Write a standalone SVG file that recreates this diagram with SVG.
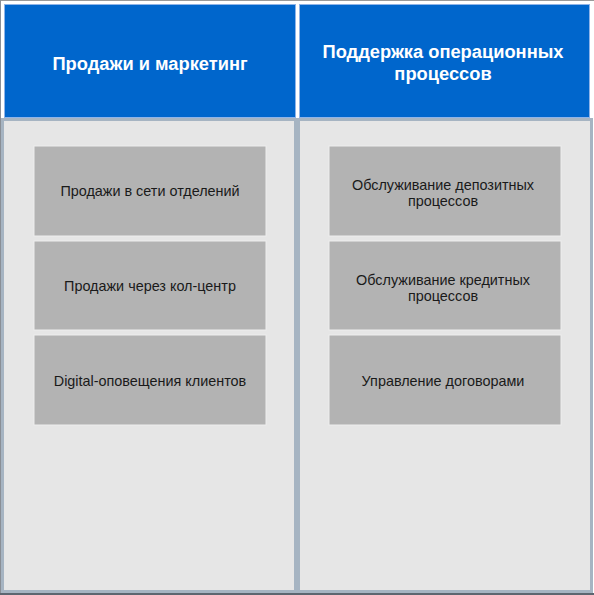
<svg xmlns="http://www.w3.org/2000/svg" width="594" height="595" viewBox="0 0 594 595">
<style>
.hdr{fill:#0066cc;stroke:#8fb4e8;stroke-width:1}
.body{fill:#e6e6e6;stroke:#a6b4c2;stroke-width:3}
.box{fill:#b3b3b3;stroke:#ededed;stroke-width:1}
.ht{font-family:"Liberation Sans",Arial,sans-serif;font-size:18.3px;font-weight:bold;fill:#ffffff;text-anchor:middle}
.bt{font-family:"Liberation Sans",Arial,sans-serif;font-size:14.4px;fill:#1a1a1a;text-anchor:middle}
</style>
<rect x="0" y="0" width="594" height="595" fill="#ffffff"/>
<line x1="0" y1="0.5" x2="594" y2="0.5" stroke="#9a9a9a" stroke-width="1"/>
<line x1="0.5" y1="0" x2="0.5" y2="595" stroke="#8a8f96" stroke-width="1"/>
<g id="col-left">
<rect class="hdr" x="4.5" y="4.5" width="291" height="113"/>
<text class="ht" x="150" y="70">Продажи и маркетинг</text>
<rect class="body" x="2.5" y="119.5" width="293" height="472"/>
</g>
<g id="col-right">
<rect class="hdr" x="299.5" y="4.5" width="290" height="113"/>
<text class="ht" x="443" y="58">Поддержка операционных</text>
<text class="ht" x="443" y="80">процессов</text>
<rect class="body" x="298.5" y="119.5" width="293" height="472"/>
</g>
<line x1="0" y1="594" x2="594" y2="594" stroke="#5d6670" stroke-width="2"/>
<g id="n-l1">
<rect class="box" x="34" y="146" width="232" height="90"/>
<text class="bt" x="150" y="196">Продажи в сети отделений</text>
</g>
<g id="n-l2">
<rect class="box" x="34" y="241" width="232" height="89"/>
<text class="bt" x="150" y="291">Продажи через кол-центр</text>
</g>
<g id="n-l3">
<rect class="box" x="34" y="335" width="232" height="90"/>
<text class="bt" x="150" y="386">Digital-оповещения клиентов</text>
</g>
<g id="n-r1">
<rect class="box" x="329" y="146" width="232" height="90"/>
<text class="bt" x="443" y="190">Обслуживание депозитных</text>
<text class="bt" x="443" y="206">процессов</text>
</g>
<g id="n-r2">
<rect class="box" x="329" y="241" width="232" height="89"/>
<text class="bt" x="443" y="285">Обслуживание кредитных</text>
<text class="bt" x="443" y="301">процессов</text>
</g>
<g id="n-r3">
<rect class="box" x="329" y="335" width="232" height="90"/>
<text class="bt" x="443" y="386">Управление договорами</text>
</g>
<g id="connectors"></g>
</svg>
